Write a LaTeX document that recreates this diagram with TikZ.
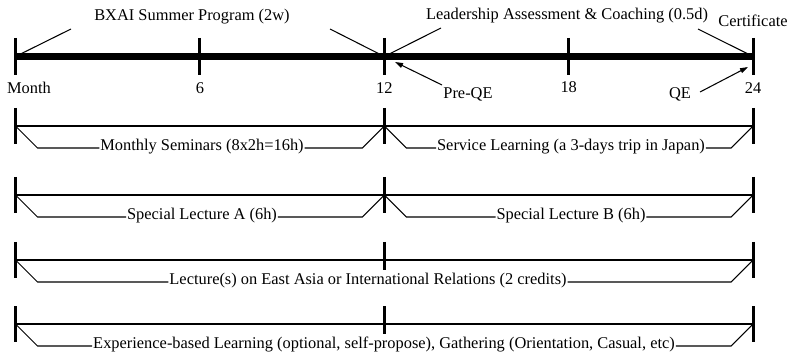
\documentclass[tikz,border=0pt]{standalone}
\usepackage{fontspec}
\setmainfont{Liberation Serif}
\usetikzlibrary{arrows.meta,calc}
\begin{document}
\begin{tikzpicture}[x=1pt,y=-1pt,
  mainline/.style={line width=7pt},
  maintick/.style={line width=3pt},
  rowline/.style={line width=2pt},
  rowtick/.style={line width=3pt},
  conn/.style={line width=1.05pt},
  arr/.style={line width=1.05pt,-{Triangle[length=8pt,width=5pt]}},
  lbl/.style={font=\fontsize{16.4}{19}\selectfont, inner sep=0pt, outer sep=0pt},
  blbl/.style={lbl, inner xsep=1pt, anchor=mid}
]
\useasboundingbox (0,0) rectangle (789,355);

% main timeline
\foreach \i/\x in {0/15.5,6/199.9,12/384.3,18/568.7,24/753.1} {\coordinate (t\i) at (\x,56.5);}
\draw[mainline] (t0) -- (t24);
\foreach \i in {0,6,12,18,24} \draw[maintick] ($(t\i)+(0,-18.5)$) -- ($(t\i)+(0,18.5)$);

\node[lbl,anchor=base] (lm) at (29,94) {Month};
\node[lbl,anchor=base] (l6) at (199.9,94) {6};
\node[lbl,anchor=base] (l12) at (384.3,94) {12};
\node[lbl,anchor=base] (l18) at (568.7,93) {18};
\node[lbl,anchor=base] (l24) at (753.1,94) {24};
\node[lbl,anchor=base] (preqe) at (468,99) {Pre-QE};
\node[lbl,anchor=base] (qe) at (680,99) {QE};
\node[lbl,anchor=base] (bxai) at (192,21) {BXAI Summer Program (2w)};
\node[lbl,anchor=base] (lead) at (567,20) {Leadership Assessment \& Coaching (0.5d)};
\node[lbl,anchor=base] (cert) at (753,27) {Certificate};

\coordinate (bxL) at (71,29);
\coordinate (bxR) at (330,29);
\coordinate (ldL) at (441,28);
\coordinate (ctL) at (698,29);
\draw[conn] (bxL) -- (t0);
\draw[conn] (bxR) -- (t12);
\draw[conn] (ldL) -- (t12);
\draw[conn] (ctL) -- (t24);

\coordinate (pqA) at (442,85);
\coordinate (pqT) at (395,62);
\coordinate (qeA) at (700,92);
\coordinate (qeT) at (748,67);
\draw[arr] (pqA) -- (pqT);
\draw[arr] (qeA) -- (qeT);

% rows
\foreach \r/\y/\d in {1/126/18,2/195/18,3/260/10,4/324/10} {
  \coordinate (r\r a) at (15.5,\y);
  \coordinate (r\r m) at (384.3,\y);
  \coordinate (r\r b) at (753.1,\y);
  \draw[rowline] (r\r a) -- (r\r b);
  \foreach \c in {a,b} \draw[rowtick] ($(r\r\c)+(0,-18)$) -- ($(r\r\c)+(0,18)$);
  \draw[rowtick] ($(r\r m)+(0,-18)$) -- ($(r\r m)+(0,\d)$);
}

\node[blbl] (s1) at (202,148) {Monthly Seminars (8x2h=16h)};
\node[blbl] (s2) at (571,148) {Service Learning (a 3-days trip in Japan)};
\node[blbl] (s3) at (202,217) {Special Lecture A (6h)};
\node[blbl] (s4) at (571,217) {Special Lecture B (6h)};
\node[blbl] (s5) at (368,282) {Lecture(s) on East Asia or International Relations (2 credits)};
\node[blbl] (s6) at (384,346) {Experience-based Learning (optional, self-propose), Gathering (Orientation, Casual, etc)};

\draw[conn] (r1a) -- ++(22,22) -- (s1.mid west);
\draw[conn] (s1.mid east) -- ($(r1m)+(-22,22)$) -- (r1m);
\draw[conn] (r1m) -- ++(22,22) -- (s2.mid west);
\draw[conn] (s2.mid east) -- ($(r1b)+(-22,22)$) -- (r1b);

\draw[conn] (r2a) -- ++(22,22) -- (s3.mid west);
\draw[conn] (s3.mid east) -- ($(r2m)+(-22,22)$) -- (r2m);
\draw[conn] (r2m) -- ++(22,22) -- (s4.mid west);
\draw[conn] (s4.mid east) -- ($(r2b)+(-22,22)$) -- (r2b);

\draw[conn] (r3a) -- ++(22,22) -- (s5.mid west);
\draw[conn] (s5.mid east) -- ($(r3b)+(-22,22)$) -- (r3b);

\draw[conn] (r4a) -- ++(22,22) -- (s6.mid west);
\draw[conn] (s6.mid east) -- ($(r4b)+(-22,22)$) -- (r4b);
\end{tikzpicture}
\end{document}
